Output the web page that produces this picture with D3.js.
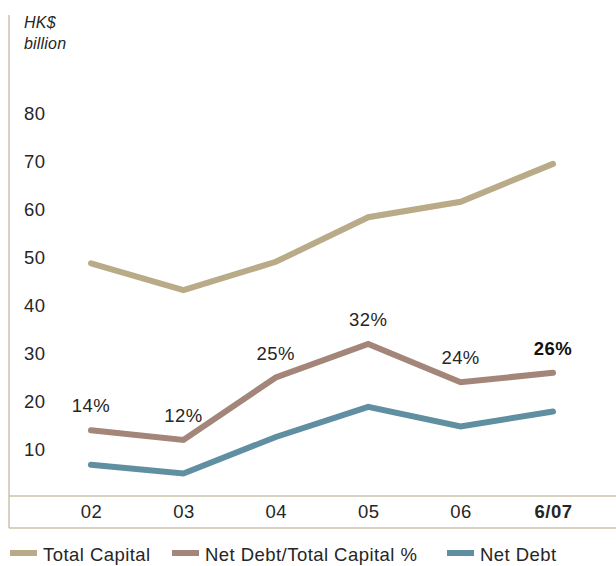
<!DOCTYPE html>
<html>
<head>
<meta charset="utf-8">
<script src="https://cdn.jsdelivr.net/npm/d3@7"></script>
<style>
  html, body { margin: 0; padding: 0; background: #fff; }
  svg { display: block; font-family: "Helvetica Neue", Arial, "Liberation Sans", sans-serif; }
</style>
</head>
<body>
<div id="chart"></div>
<script>
// Group capital structure, HK$ billion
const years = ["02", "03", "04", "05", "06", "6/07"];
const totalCapital = [48.8, 43.2, 49.1, 58.4, 61.6, 69.5];
const gearingPct = [14, 12, 25, 32, 24, 26];
const netDebt = [6.8, 5.0, 12.6, 18.9, 14.8, 17.9];
const yTicks = [10, 20, 30, 40, 50, 60, 70, 80];

const W = 616, H = 566;
const frameLeft = 9, frameTop = 15, axisY = 496, frameBottom = 528;

const svg = d3.select("#chart").append("svg")
  .attr("width", W).attr("height", H);

const x = d3.scalePoint().domain(years).range([91, 553]);
const y = d3.scaleLinear().domain([0, 80]).range([497.5, 113.5]);

const frameColor = "#cbc4ad";
const textColor = "#262626";
const fs = 18.5, ls = "0.45px";

// frame: left rule, axis rule, bottom rule
svg.append("line").attr("x1", frameLeft).attr("x2", frameLeft)
  .attr("y1", frameTop).attr("y2", frameBottom)
  .attr("stroke", frameColor).attr("stroke-width", 1.5);
svg.append("line").attr("x1", frameLeft).attr("x2", W)
  .attr("y1", axisY).attr("y2", axisY)
  .attr("stroke", frameColor).attr("stroke-width", 1.5);
svg.append("line").attr("x1", frameLeft).attr("x2", W)
  .attr("y1", frameBottom).attr("y2", frameBottom)
  .attr("stroke", frameColor).attr("stroke-width", 1.5);

// unit caption
const unit = svg.append("text").attr("x", 24).attr("font-style", "italic")
  .attr("font-size", 16).attr("fill", textColor).attr("letter-spacing", "0.2px");
unit.append("tspan").attr("x", 24).attr("y", 28).text("HK$");
unit.append("tspan").attr("x", 24).attr("y", 49).text("billion");

// y axis labels
const yAxis = d3.axisLeft(y).tickValues(yTicks).tickSize(0).tickPadding(0);
const yg = svg.append("g").attr("transform", "translate(24,0)").call(yAxis);
yg.select(".domain").remove();
yg.selectAll("text")
  .attr("text-anchor", "start")
  .attr("font-size", fs)
  .attr("letter-spacing", ls)
  .attr("font-family", null)
  .attr("fill", textColor);

// x axis labels
const xAxis = d3.axisBottom(x).tickSize(0).tickPadding(0);
const xg = svg.append("g").attr("transform", `translate(0,${axisY + 9})`).call(xAxis);
xg.select(".domain").remove();
xg.selectAll("text")
  .attr("font-size", fs)
  .attr("letter-spacing", ls)
  .attr("font-family", null)
  .attr("fill", textColor)
  .attr("font-weight", d => d === "6/07" ? "bold" : null);

// series lines
const series = [
  { name: "Total Capital", values: totalCapital, color: "#b9ab88" },
  { name: "Net Debt/Total Capital %", values: gearingPct, color: "#a38579" },
  { name: "Net Debt", values: netDebt, color: "#5f8fa1" }
];

const line = d3.line()
  .x((d, i) => x(years[i]))
  .y(d => y(d));

svg.selectAll("path.series").data(series).join("path")
  .attr("class", "series")
  .attr("d", s => line(s.values))
  .attr("fill", "none")
  .attr("stroke", s => s.color)
  .attr("stroke-width", 6)
  .attr("stroke-linecap", "round")
  .attr("stroke-linejoin", "miter");

// gearing percentage labels above the line
svg.selectAll("text.pct").data(gearingPct).join("text")
  .attr("class", "pct")
  .attr("x", (d, i) => x(years[i]))
  .attr("y", d => y(d) - 18)
  .attr("text-anchor", "middle")
  .attr("font-size", fs)
  .attr("letter-spacing", ls)
  .attr("fill", (d, i) => i === years.length - 1 ? "#111" : textColor)
  .attr("font-weight", (d, i) => i === years.length - 1 ? "bold" : null)
  .text(d => d + "%");

// legend
const legendX = [10, 172, 447];
const lg = svg.selectAll("g.legend").data(series).join("g")
  .attr("class", "legend")
  .attr("transform", (d, i) => `translate(${legendX[i]},555)`);
lg.append("rect").attr("x", 0).attr("y", -5).attr("width", 27).attr("height", 6)
  .attr("fill", d => d.color);
lg.append("text").attr("x", 33).attr("y", 6)
  .attr("font-size", fs).attr("letter-spacing", ls).attr("fill", textColor)
  .text(d => d.name);
</script>
</body>
</html>
